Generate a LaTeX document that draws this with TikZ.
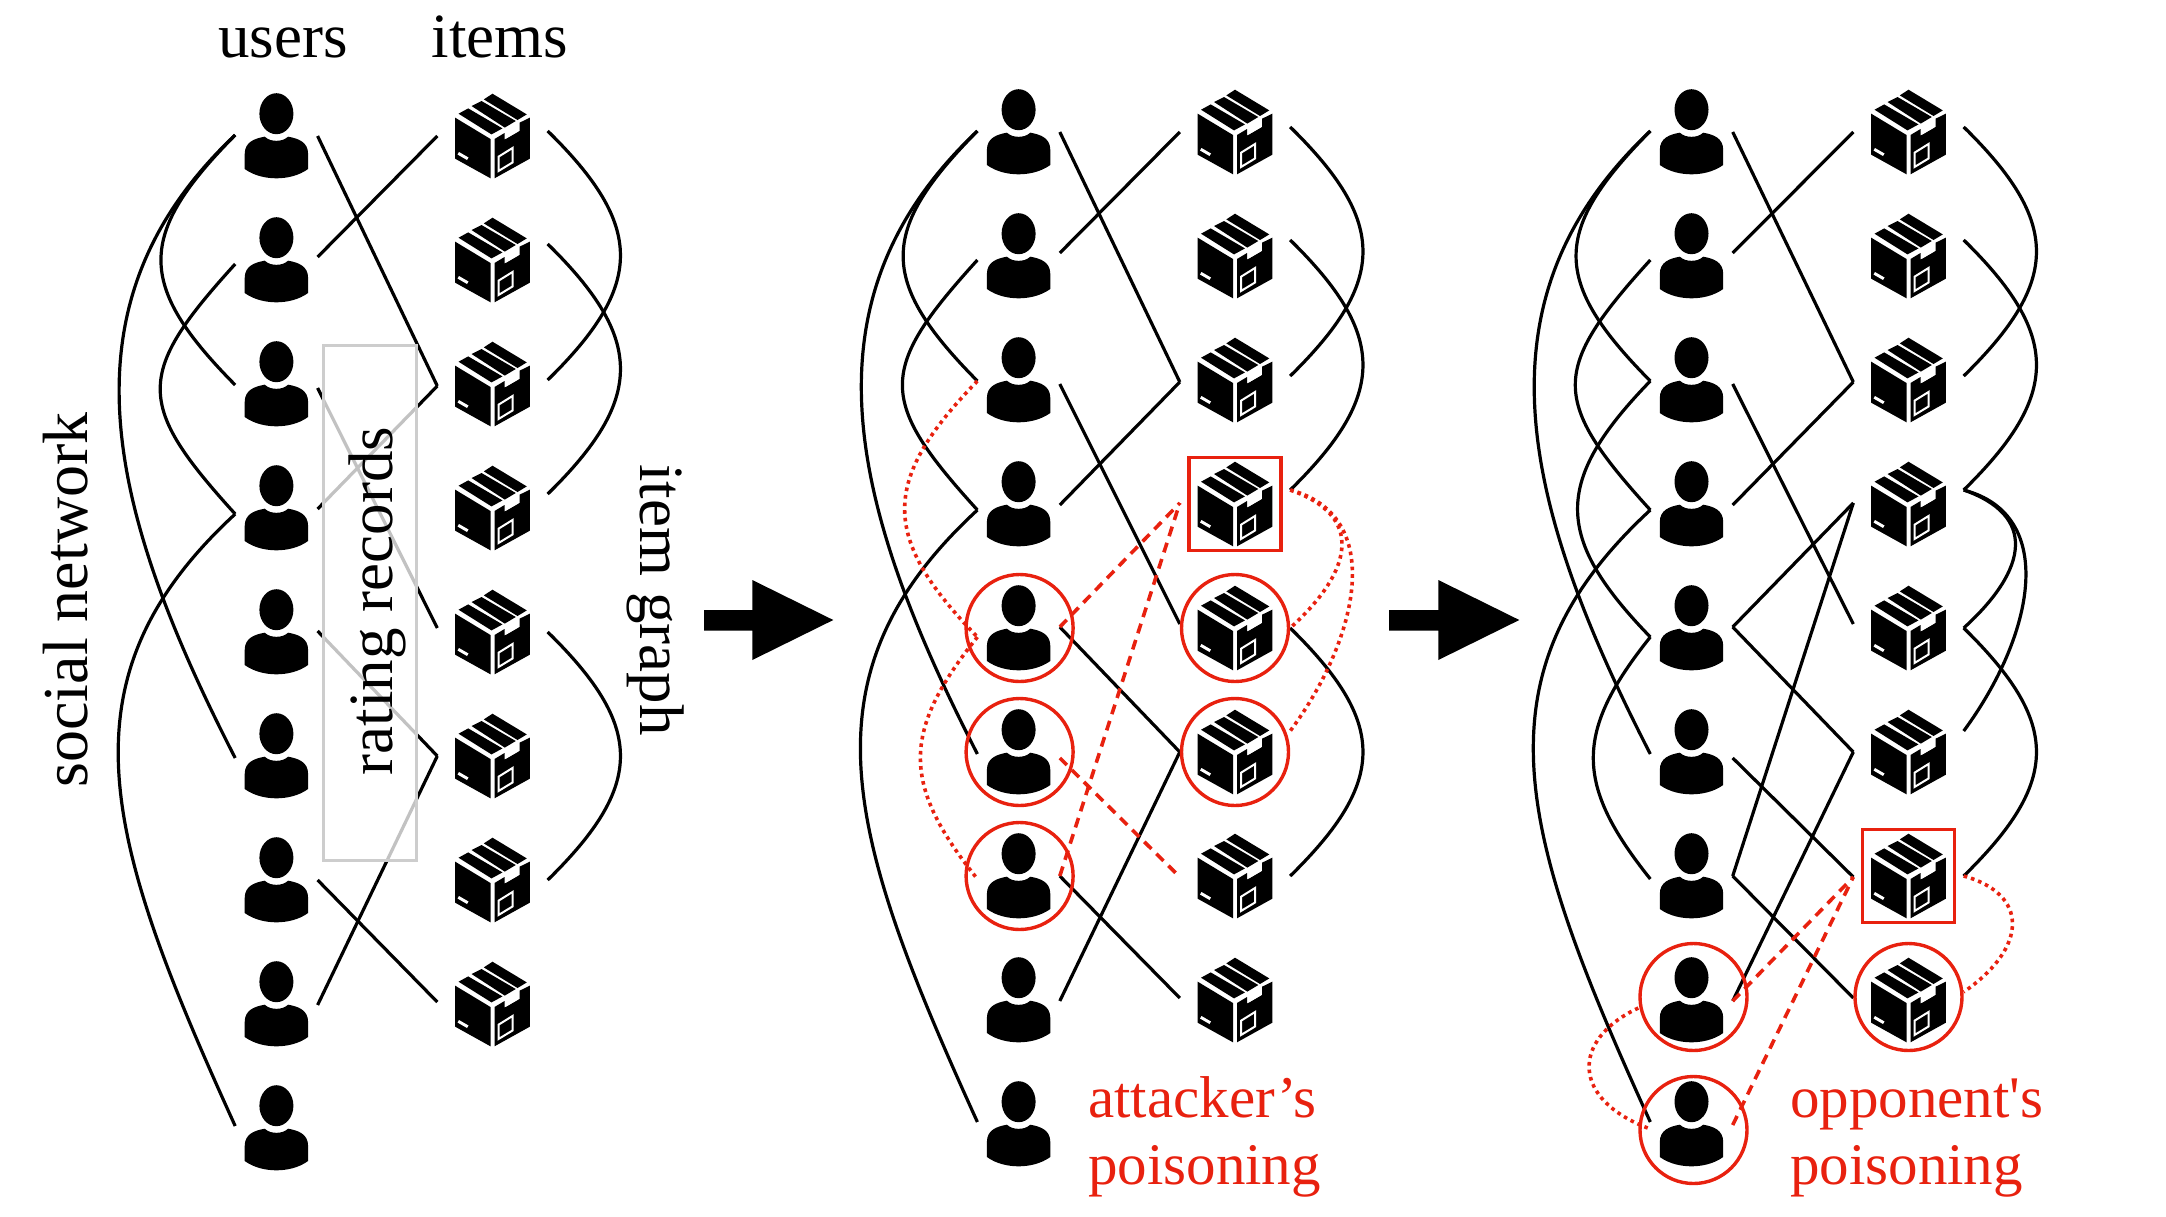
\documentclass[tikz,border=0pt]{standalone}
\usepackage{fontspec}
\setmainfont{Liberation Serif}
\newfontfamily\straightfont{Liberation Serif}
\usetikzlibrary{calc}
\definecolor{poison}{HTML}{E8210F}
\definecolor{boxgray}{HTML}{CDCDCD}
\tikzset{
    person/.pic={
        \fill (0,-22.3) ellipse (17 and 20.5);
        \fill (-31.7,33) -- (-31.7,18) .. controls (-31.7,6) and (-22,2.5) .. (-11.7,0.7)
            .. controls (-8,4) and (-4,4.8) .. (0,4.8) .. controls (4,4.8) and (8,4) .. (11.7,0.7)
            .. controls (22,2.5) and (31.7,6) .. (31.7,18) -- (31.7,33)
            .. controls (22,40) and (10,42.3) .. (0,42.3) .. controls (-10,42.3) and (-22,40) .. cycle;
    },
    parcel/.pic={
        \fill (-37.3,-18.3) -- (-2,3) -- (-2,42.3) -- (-37.3,22.7) -- cycle;
        \fill (2,3) -- (12,-3) -- (12,3.6) -- (27,-5) -- (27,-13.3) -- (37.3,-18.3) -- (37.3,22.7) -- (2,42.3) -- cycle;
        \fill (-34,-22.3) -- (-24.3,-27.6) -- (10,-7.6) -- (-1,-1.6) -- cycle;
        \fill (-21,-30) -- (-11,-35) -- (23.3,-15) -- (12.3,-8.4) -- cycle;
        \fill (-8.7,-36.6) -- (0,-42.3) -- (34.3,-21.6) -- (25,-16) -- cycle;
        \draw[white,line width=2pt] (6,20.7) -- (20,12) -- (20,26.5) -- (6,35) -- cycle;
        \fill[white] (-35,18.5) -- (-33.5,16) -- (-24,21.5) -- (-25.5,24) -- cycle;
        \draw[white,line width=1.4pt] (14,-4.5) -- (25,-11.5) -- (25,-5) -- (14,1.5) -- cycle;
    },
    usernode/.style={minimum width=80pt,minimum height=84pt,inner sep=0},
    itemnode/.style={minimum width=110pt,minimum height=84pt,inner sep=0},
    edge/.style={line width=3.2pt},
    fakerate/.style={poison,line width=3.6pt,dash pattern=on 10pt off 7pt},
    fakelink/.style={poison,line width=3.6pt,dash pattern=on 3.6pt off 4pt},
    ringnode/.style={circle,draw=poison,line width=3.4pt,minimum size=107pt,inner sep=0},
    framenode/.style={rectangle,draw=poison,line width=3.4pt,minimum width=92pt,minimum height=93pt,inner sep=0},
    label/.style={font=\fontsize{63}{70}\selectfont,inner sep=0},
    redlabel/.style={font=\fontsize{59}{66}\selectfont,text=poison,inner sep=0,anchor=base west},
    ratingbox/.style={draw=boxgray,line width=3pt,fill=white,fill opacity=.76,minimum width=93pt,minimum height=515pt,inner sep=0}
}
\begin{document}
\begin{tikzpicture}[x=1pt,y=-1pt]
    \useasboundingbox (0,0) rectangle (2166,1216);
    % the three panels
    \foreach \p/\ux/\ix/\top in {a/276.4/492.5/136,b/1018.6/1235/132,c/1691.5/1908.5/132}{
        \foreach \i/\l/\r in {0/-1/0,1/4/-3,2/1/4,3/6/1,4/9/-1,5/2/6,6/3/0,7/8/1,8/-2/1}{
            \node[usernode](\p u\i) at (\ux,\top+124*\i) {};
            \pic at (\p u\i) {person};
            \coordinate (\p ul\i) at ([shift={(-1,\l)}]\p u\i.west);
            \coordinate (\p ur\i) at ([shift={(1,\r)}]\p u\i.east);
        }
        \foreach \i/\l/\r in {0/0/-5,1/0/-16,2/2/-4,3/-1/-14,4/-4/0,5/0/-21,6/1/0,7/-2/-8}{
            \node[itemnode](\p i\i) at (\ix,\top+124*\i) {};
            \pic at (\p i\i) {parcel};
            \coordinate (\p il\i) at ([shift={(0,\l)}]\p i\i.west);
            \coordinate (\p ir\i) at ([shift={(0,\r)}]\p i\i.east);
        }
        % social network
        \draw[edge] (\p ul0) .. controls +(-176,166) and +(-132,-257) .. (\p ul5);
        \draw[edge] (\p ul0) .. controls +(-99,100) and +(-99,-100) .. (\p ul2);
        \draw[edge] (\p ul1) .. controls +(-100,110) and +(-100,-110) .. (\p ul3);
        \draw[edge] (\p ul3) .. controls +(-180,166) and +(-130,-286) .. (\p ul8);
        % item graph
        \draw[edge] (\p ir0) .. controls +(97,95) and +(97,-95) .. (\p ir2);
        \draw[edge] (\p ir1) .. controls +(97,95) and +(97,-95) .. (\p ir3);
        \draw[edge] (\p ir4) .. controls +(97,95) and +(97,-95) .. (\p ir6);
        % rating records
        \foreach \s/\t in {0/2,1/0,2/4,3/2,4/5,6/7,7/5}{
            \draw[edge] (\p ur\s) -- (\p il\t);
        }
    }
    % second panel
    \node[ringnode](ringbu4) at ([xshift=1pt]bu4) {};
    \node[ringnode](ringbu5) at ([xshift=1pt]bu5) {};
    \node[ringnode](ringbu6) at ([xshift=1pt]bu6) {};
    \node[ringnode](ringbi4) at (bi4) {};
    \node[ringnode](ringbi5) at (bi5) {};
    \node[framenode](framebi3) at (bi3) {};
    \draw[fakelink] (bul2) .. controls +(-97,100) and +(-97,-100) .. (bul4);
    \draw[fakelink] (bul4) .. controls +(-76,95) and +(-76,-95) .. (bul6);
    \draw[fakelink] (bir3) .. controls +(72,25) and +(66,-60) .. (bir4);
    \draw[fakelink] (bir3) .. controls +(95,25) and +(70,-95) .. (bir5);
    \draw[fakerate] (bur4) -- (bil3);
    \draw[fakerate] (bur5) -- (bil6);
    \draw[fakerate] (bur6) -- (bil3);
    % third panel
    \draw[edge] (cul2) .. controls +(-97,100) and +(-97,-100) .. (cul4);
    \draw[edge] (cul4) .. controls +(-76,95) and +(-76,-95) .. (cul6);
    \draw[edge] (cir3) .. controls +(72,25) and +(66,-60) .. (cir4);
    \draw[edge] (cir3) .. controls +(95,25) and +(70,-95) .. (cir5);
    \draw[edge] (cur4) -- (cil3);
    \draw[edge] (cur5) -- (cil6);
    \draw[edge] (cur6) -- (cil3);
    \node[ringnode](ringcu7) at ([shift={(2,-3)}]cu7) {};
    \node[ringnode](ringcu8) at ([shift={(2,6)}]cu8) {};
    \node[ringnode](ringci7) at ([yshift=3pt]ci7) {};
    \node[framenode](frameci6) at (ci6) {};
    \draw[fakelink] ([xshift=-12pt]cul7) .. controls +(-68,32) and +(-79,-29) .. ([yshift=-7pt]cul8);
    \draw[fakelink] (cir6) .. controls +(65,18) and +(65,-45) .. (cir7);
    \draw[fakerate] (cur7) -- (cil6);
    \draw[fakerate] (cur8) -- (cil6);
    % arrows
    \fill (704,610) -- (752.3,610) -- (752.3,580) -- (833.3,620) -- (752.3,660) -- (752.3,630.7) -- (704,630.7) -- cycle;
    \fill (1389,610) -- (1438.3,610) -- (1438.3,580) -- (1519.3,620) -- (1438.3,660) -- (1438.3,630.7) -- (1389,630.7) -- cycle;
    % labels
    \node[ratingbox](ratingframe) at (370.3,603) {};
    \node[label,anchor=base](ratinglabel) at (392.6,601) [rotate=90] {rating records};
    \node[label,anchor=base](userslabel) at (283,57) {users};
    \node[label,anchor=base](itemslabel) at (500,57) {items};
    \node[label,anchor=base,font=\fontsize{64}{70}\selectfont](sociallabel) at (87,600) [rotate=90] {social network};
    \node[label,anchor=base](graphlabel) at (640,600) [rotate=-90] {item graph};
    \node[redlabel](attacklabel) at (1088,1117.7) {attacker’s};
    \node[redlabel](attackpoison) at (1088,1184) {poisoning};
    \node[redlabel](opplabel) at (1790,1117.7) {opponent{\straightfont '}s};
    \node[redlabel](opppoison) at (1790,1184) {poisoning};
\end{tikzpicture}
\end{document}
